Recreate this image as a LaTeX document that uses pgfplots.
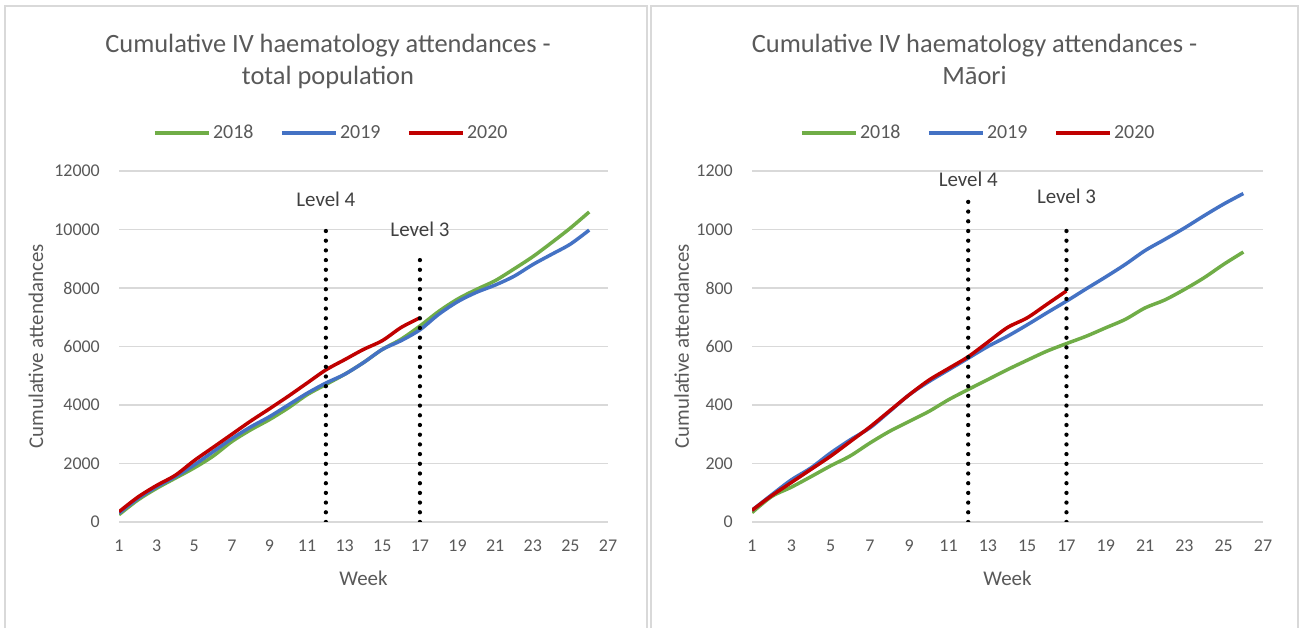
\documentclass[border=0pt]{standalone}
\usepackage{pgfplots}
\pgfplotsset{compat=1.18}
\usepackage{pgfplotstable}
\usepackage{fontspec}
\setmainfont{Carlito}

\definecolor{c18}{HTML}{70AD47}
\definecolor{c19}{HTML}{4472C4}
\definecolor{c20}{HTML}{C00000}
\definecolor{txt}{HTML}{595959}
\definecolor{grd}{HTML}{D9D9D9}

% total population
\pgfplotstableread{
week y2018 y2019
1 250 300
2 750 800
3 1150 1200
4 1500 1550
5 1850 1950
6 2250 2400
7 2750 2850
8 3150 3250
9 3500 3600
10 3900 4000
11 4350 4400
12 4700 4750
13 5050 5050
14 5450 5450
15 5900 5900
16 6250 6200
17 6700 6570
18 7200 7100
19 7620 7530
20 7950 7850
21 8250 8100
22 8650 8400
23 9070 8800
24 9550 9150
25 10050 9500
26 10600 9980
}\totaltab
\pgfplotstableread{
week y2020
1 350
2 850
3 1250
4 1600
5 2100
6 2550
7 3000
8 3450
9 3870
10 4300
11 4750
12 5200
13 5550
14 5900
15 6200
16 6650
17 6980
}\totaltabb

% Maori
\pgfplotstableread{
week y2018 y2019
1 32 40
2 87 93
3 119 144
4 155 185
5 192 236
6 226 281
7 270 322
8 310 378
9 344 435
10 378 480
11 418 520
12 453 560
13 487 600
14 521 635
15 553 674
16 584 715
17 610 755
18 635 797
19 664 838
20 693 881
21 732 928
22 759 966
23 795 1005
24 835 1047
25 881 1087
26 923 1123
}\maoritab
\pgfplotstableread{
week y2020
1 40
2 90
3 135
4 180
5 225
6 275
7 325
8 380
9 435
10 485
11 525
12 565
13 615
14 665
15 698
16 744
17 790
}\maoritabb

\tikzset{
  lvltxt/.style={font=\fontsize{21}{24}\selectfont, text=black!75, inner sep=0pt},
  ttl/.style={font=\fontsize{26.5}{32}\selectfont, text=txt, inner sep=0pt, anchor=base},
}
\pgfplotsset{
  xlchart/.style={
    scale only axis, width=489bp, height=351bp,
    anchor=south west,
    xmin=1, xmax=27, xtick={1,3,...,27}, ymin=0,
    axis line style={draw=none}, major tick length=0pt,
    ymajorgrids, grid style={grd, line width=1.4bp},
    scaled y ticks=false,
    /pgf/number format/assume math mode=true,
    /pgf/number format/1000 sep={},
    tick label style={font=\fontsize{18}{20}\selectfont, text=txt, inner sep=0pt},
    xticklabel style={anchor=base, yshift=-30bp},
    yticklabel style={anchor=east, xshift=-19bp},
    label style={font=\fontsize{21}{24}\selectfont, text=txt, inner sep=0pt},
    xlabel={Week}, ylabel={Cumulative attendances},
    xlabel style={at={(axis description cs:0.5,0)}, anchor=base, yshift=-63bp},
    legend style={draw=none, fill=none, font=\fontsize{20}{22}\selectfont, text=txt,
      legend columns=-1, /tikz/every even column/.append style={column sep=24bp},
      nodes={inner xsep=2.5bp}},
    legend image code/.code={\draw[#1, line width=3.6bp] (0bp,0bp) -- (54bp,0bp);},
    every axis plot/.append style={line width=3.5bp, smooth},
  },
  lvl/.style={black, line width=4.3bp, line cap=round, dash pattern=on 0bp off 9.7bp, forget plot, sharp plot},
}

\begin{document}
\begin{tikzpicture}
\fill[white] (0,0) rectangle (1301bp,628bp);
\draw[grd, line width=1.4bp] (5bp,0) -- (5bp,622bp) -- (647bp,622bp) -- (647bp,0);
\draw[grd, line width=1.4bp] (651bp,0) -- (651bp,622bp) -- (1298bp,622bp) -- (1298bp,0);

\node[ttl] at (328bp,575.3bp) {Cumulative IV haematology attendances -};
\node[ttl] at (328bp,543bp) {total population};
\node[ttl] at (974.5bp,575.3bp) {Cumulative IV haematology attendances -};
\node[ttl] at (974.5bp,543bp) {Māori};

\begin{axis}[xlchart, at={(119bp,106bp)},
  ymax=12000, ytick={0,2000,...,12000},
  ylabel style={at={(axis description cs:-0.1554,0.5)}, anchor=base},
  legend style={at={(0.4346,1.109)}, anchor=center},
]
\addplot[c18] table[x=week, y=y2018] {\totaltab};
\addplot[c19] table[x=week, y=y2019] {\totaltab};
\addplot[c20] table[x=week, y=y2020] {\totaltabb};
\legend{2018,2019,2020}
\addplot[lvl] coordinates {(12,0) (12,10000)};
\addplot[lvl] coordinates {(17,0) (17,9000)};
\node[lvltxt] at (axis cs:12,11043) {Level 4};
\node[lvltxt] at (axis cs:17,10017) {Level 3};
\end{axis}

\begin{axis}[xlchart, at={(752bp,106bp)}, width=511bp,
  ymax=1200, ytick={0,200,...,1200},
  ylabel style={at={(axis description cs:-0.1233,0.5)}, anchor=base},
  legend style={at={(0.4432,1.109)}, anchor=center},
]
\addplot[c18] table[x=week, y=y2018] {\maoritab};
\addplot[c19] table[x=week, y=y2019] {\maoritab};
\addplot[c20] table[x=week, y=y2020] {\maoritabb};
\legend{2018,2019,2020}
\addplot[lvl] coordinates {(12,0) (12,1120)};
\addplot[lvl] coordinates {(17,0) (17,1000)};
\node[lvltxt] at (axis cs:12,1173) {Level 4};
\node[lvltxt] at (axis cs:17,1114) {Level 3};
\end{axis}
\end{tikzpicture}
\end{document}
